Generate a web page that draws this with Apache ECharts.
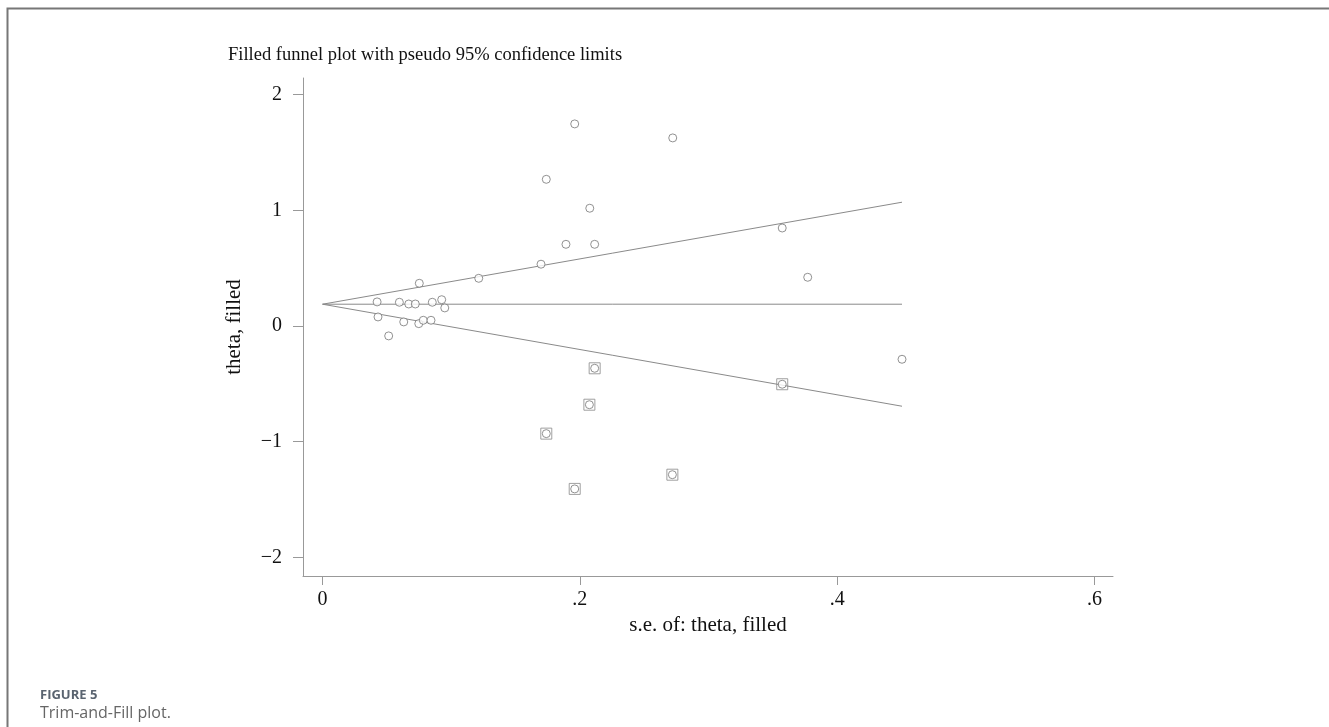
<!DOCTYPE html>
<html>
<head>
<meta charset="utf-8">
<script src="https://cdn.jsdelivr.net/npm/echarts@6/dist/echarts.min.js"></script>
<style>
  html, body { margin: 0; padding: 0; background: #fff; }
  #chart { width: 1329px; height: 727px; }
</style>
</head>
<body>
<div id="chart"></div>
<script>
// observed studies: standard error and effect size
const obsSe = [0.0424, 0.0431, 0.0514, 0.0597, 0.0631, 0.0670, 0.0721, 0.0752, 0.0748, 0.0783,
  0.0843, 0.0853, 0.0926, 0.0950, 0.1214, 0.1698, 0.1739, 0.1892, 0.1960, 0.2077,
  0.2115, 0.2722, 0.3573, 0.3771, 0.4504]
const obsTheta = [0.208, 0.078, -0.086, 0.205, 0.035, 0.190, 0.190, 0.369, 0.020, 0.049,
  0.049, 0.205, 0.227, 0.156, 0.412, 0.534, 1.268, 0.706, 1.747, 1.018,
  0.706, 1.626, 0.847, 0.421, -0.288]

// imputed (filled) studies
const fillSe = [0.1739, 0.1960, 0.2074, 0.2115, 0.2719, 0.3573]
const fillTheta = [-0.931, -1.409, -0.681, -0.366, -1.286, -0.504]

// funnel: pseudo 95% limits at se = 0 and se = max
const funnelSe = [0, 0.4504]
const funnelMid = [0.188, 0.188]
const funnelUpper = [0.188, 1.070]
const funnelLower = [0.188, -0.694]

const xTicks = [0, 0.2, 0.4, 0.6]
const yTicks = [-2, -1, 0, 1, 2]

const serif = 'Liberation Serif'
const grey = '#777'

function zip(a, b) {
  return a.map((v, i) => [v, b[i]])
}

function lineSeries(ys) {
  return {
    type: 'line',
    data: zip(funnelSe, ys),
    symbol: 'none',
    silent: true,
    z: 1,
    lineStyle: { color: '#8a8a8a', width: 1 },
  }
}

const chart = echarts.init(document.getElementById('chart'), null, { renderer: 'canvas' })

const option = {
  backgroundColor: '#fff',
  animation: false,
  title: {
    text: 'Filled funnel plot with pseudo 95% confidence limits',
    left: 228,
    top: 46,
    padding: 0,
    textStyle: { fontFamily: serif, fontSize: 18.5, fontWeight: 'normal', color: '#111' },
  },
  grid: { left: 303, right: 216, top: 78, bottom: 151 },
  xAxis: {
    type: 'value',
    min: -0.0152,
    max: 0.6144,
    name: 's.e. of: theta, filled',
    nameLocation: 'middle',
    nameGap: 30,
    nameTextStyle: { fontFamily: serif, fontSize: 21, color: '#111' },
    axisLine: { show: true, onZero: false, lineStyle: { color: '#999', width: 1 } },
    axisTick: { show: true, length: 9, customValues: xTicks, lineStyle: { color: '#999' } },
    axisLabel: {
      customValues: xTicks,
      margin: 14,
      fontFamily: serif,
      fontSize: 20,
      color: '#111',
      formatter: v => (v === 0 ? '0' : String(v).replace('0.', '.')),
    },
    splitLine: { show: false },
  },
  yAxis: {
    type: 'value',
    min: -2.162,
    max: 2.144,
    name: 'theta, filled',
    nameLocation: 'middle',
    nameGap: 58,
    nameTextStyle: { fontFamily: serif, fontSize: 21, color: '#111' },
    axisLine: { show: true, onZero: false, lineStyle: { color: '#999', width: 1 } },
    axisTick: { show: true, length: 10, customValues: yTicks, lineStyle: { color: '#999' } },
    axisLabel: {
      customValues: yTicks,
      margin: 21,
      fontFamily: serif,
      fontSize: 20,
      color: '#111',
      formatter: v => (v < 0 ? '\u2212' + Math.abs(v) : String(v)),
    },
    splitLine: { show: false },
  },
  series: [
    lineSeries(funnelMid),
    lineSeries(funnelUpper),
    lineSeries(funnelLower),
    {
      type: 'scatter',
      data: zip(fillSe, fillTheta),
      symbol: 'rect',
      symbolSize: 11,
      z: 2,
      itemStyle: { color: 'rgba(255,255,255,0)', borderColor: '#888', borderWidth: 1 },
    },
    {
      type: 'scatter',
      data: zip(fillSe, fillTheta),
      symbol: 'circle',
      symbolSize: 8,
      z: 3,
      itemStyle: { color: '#fff', borderColor: grey, borderWidth: 1 },
    },
    {
      type: 'scatter',
      data: zip(obsSe, obsTheta),
      symbol: 'circle',
      symbolSize: 8,
      z: 3,
      itemStyle: { color: '#fff', borderColor: grey, borderWidth: 1 },
    },
  ],
  graphic: [
    {
      type: 'polyline',
      shape: { points: [[7.5, 727], [7.5, 8.5], [1329, 8.5]] },
      style: { stroke: '#777', lineWidth: 2, fill: null },
      silent: true,
    },
    {
      type: 'text',
      left: 40,
      top: 689,
      style: { text: 'FIGURE 5', font: 'bold 13px "Open Sans"', fill: '#5a6470' },
    },
    {
      type: 'text',
      left: 40,
      top: 705,
      style: { text: 'Trim-and-Fill plot.', font: '16px "Open Sans"', fill: '#666' },
    },
  ],
}

chart.setOption(option)
</script>
</body>
</html>
